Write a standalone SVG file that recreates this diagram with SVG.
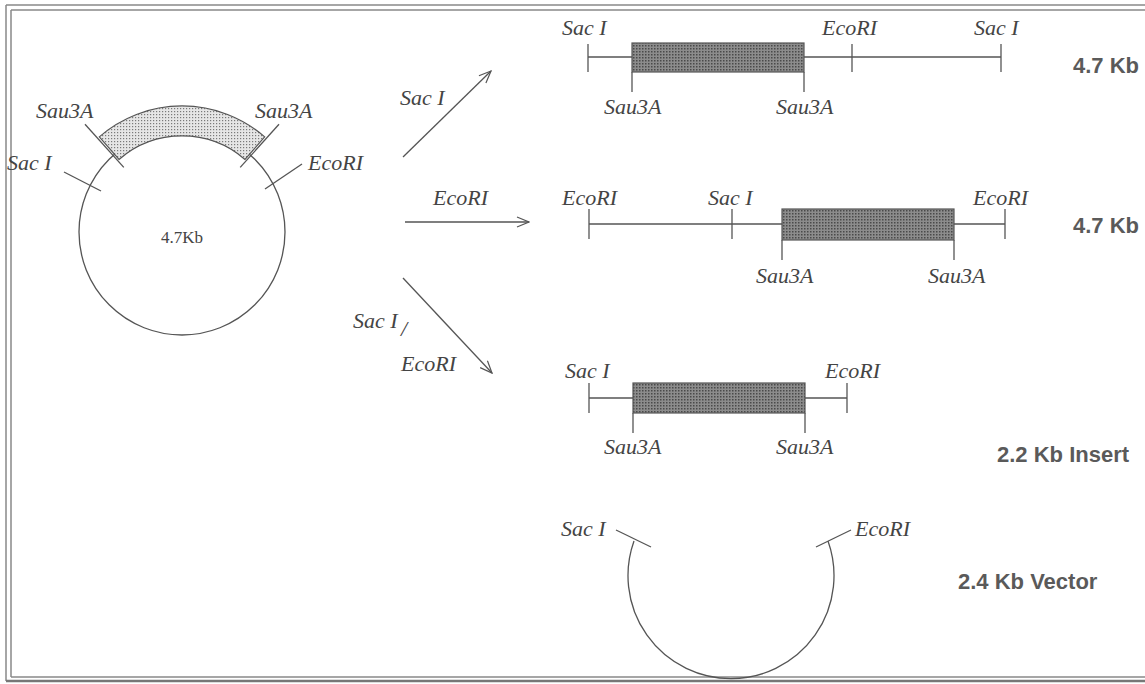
<svg xmlns="http://www.w3.org/2000/svg" width="1145" height="684" viewBox="0 0 1145 684">
<defs>
<pattern id="dk" width="3" height="3" patternUnits="userSpaceOnUse"><rect width="3" height="3" fill="#8c8c8c"/><rect width="1.5" height="1.5" fill="#4a4a4a"/></pattern>
<pattern id="lt" width="3" height="3" patternUnits="userSpaceOnUse"><rect width="3" height="3" fill="#e6e6e6"/><rect width="1.2" height="1.2" fill="#7a7a7a"/></pattern>
<marker id="ah" viewBox="0 0 14 12" refX="13" refY="6" markerWidth="14" markerHeight="12" markerUnits="userSpaceOnUse" orient="auto"><path d="M1,1 L13,6 L1,11" fill="none" stroke="#555" stroke-width="1.2"/></marker>
</defs>
<style>
.ln{stroke:#555;stroke-width:1.3;fill:none}
.bx{fill:url(#dk);stroke:#555;stroke-width:1.2}
.en{font-family:"Liberation Serif",serif;font-style:italic;font-size:22px;fill:#444}
.kb{font-family:"Liberation Sans",Arial,sans-serif;font-weight:bold;font-size:22px;fill:#5a5a5a}
.fr{stroke:#888;stroke-width:1.5;fill:none}
</style>
<rect width="1145" height="684" fill="#fff"/>
<g id="frame">
<line class="fr" x1="6" y1="5" x2="1145" y2="5"/>
<line class="fr" x1="11" y1="10" x2="1145" y2="10"/>
<line class="fr" x1="6" y1="5" x2="6" y2="681"/>
<line class="fr" x1="11" y1="10" x2="11" y2="677"/>
<line class="fr" x1="11" y1="677" x2="1145" y2="677"/>
<line x1="6" y1="681" x2="1145" y2="681" stroke="#777" stroke-width="2.5"/>
</g>
<g id="plasmid">
<circle class="ln" cx="182" cy="232" r="103"/>
<path d="M99.3,136.9 A126,126 0 0 1 264.7,136.9 L245,159.5 A96,96 0 0 0 119,159.5 Z" fill="url(#lt)" stroke="#555" stroke-width="1.2"/>
<line class="ln" x1="85" y1="124.3" x2="123.8" y2="167.4"/>
<line class="ln" x1="279" y1="124.3" x2="240.2" y2="167.4"/>
<line class="ln" x1="64" y1="172" x2="101" y2="191"/>
<line class="ln" x1="302" y1="164" x2="265" y2="189"/>
<text class="en" x="36" y="118">Sau3A</text>
<text class="en" x="255" y="118">Sau3A</text>
<text class="en" x="7" y="170">Sac I</text>
<text class="en" x="308" y="170">EcoRI</text>
<text x="182" y="243" text-anchor="middle" font-family="Liberation Serif,serif" font-size="17" fill="#444">4.7Kb</text>
</g>
<g id="connectors">
<line class="ln" x1="403" y1="157" x2="491" y2="71" marker-end="url(#ah)"/>
<line class="ln" x1="405" y1="222" x2="529" y2="222" marker-end="url(#ah)"/>
<line class="ln" x1="403" y1="278" x2="492" y2="373" marker-end="url(#ah)"/>
<text class="en" x="400" y="105">Sac I</text>
<text class="en" x="433" y="205">EcoRI</text>
<text class="en" x="353" y="328">Sac I</text>
<text class="en" x="401" y="336">/</text>
<text class="en" x="401" y="371">EcoRI</text>
</g>
<g id="row1">
<line class="ln" x1="588" y1="57" x2="1001" y2="57"/>
<line class="ln" x1="588" y1="44" x2="588" y2="72"/>
<line class="ln" x1="852" y1="44" x2="852" y2="72"/>
<line class="ln" x1="1001" y1="44" x2="1001" y2="72"/>
<rect class="bx" x="632" y="43" width="172" height="29"/>
<line class="ln" x1="632" y1="72" x2="632" y2="92"/>
<line class="ln" x1="804" y1="72" x2="804" y2="92"/>
<text class="en" x="562" y="35">Sac I</text>
<text class="en" x="822" y="35">EcoRI</text>
<text class="en" x="974" y="35">Sac I</text>
<text class="en" x="604" y="114">Sau3A</text>
<text class="en" x="776" y="114">Sau3A</text>
<text class="kb" x="1073" y="73">4.7 Kb</text>
</g>
<g id="row2">
<line class="ln" x1="589" y1="224" x2="1005" y2="224"/>
<line class="ln" x1="589" y1="209" x2="589" y2="239"/>
<line class="ln" x1="732" y1="209" x2="732" y2="239"/>
<line class="ln" x1="1005" y1="209" x2="1005" y2="239"/>
<rect class="bx" x="782" y="209" width="172" height="31"/>
<line class="ln" x1="782" y1="240" x2="782" y2="260"/>
<line class="ln" x1="954" y1="240" x2="954" y2="260"/>
<text class="en" x="562" y="205">EcoRI</text>
<text class="en" x="708" y="205">Sac I</text>
<text class="en" x="973" y="205">EcoRI</text>
<text class="en" x="756" y="283">Sau3A</text>
<text class="en" x="928" y="283">Sau3A</text>
<text class="kb" x="1073" y="233">4.7 Kb</text>
</g>
<g id="row3">
<line class="ln" x1="589" y1="398" x2="847" y2="398"/>
<line class="ln" x1="589" y1="383" x2="589" y2="413"/>
<line class="ln" x1="847" y1="383" x2="847" y2="413"/>
<rect class="bx" x="633" y="383" width="172" height="30"/>
<line class="ln" x1="633" y1="413" x2="633" y2="433"/>
<line class="ln" x1="805" y1="413" x2="805" y2="433"/>
<text class="en" x="565" y="378">Sac I</text>
<text class="en" x="825" y="378">EcoRI</text>
<text class="en" x="604" y="454">Sau3A</text>
<text class="en" x="776" y="454">Sau3A</text>
<text class="kb" x="997" y="462" font-size="22.5">2.2 Kb Insert</text>
</g>
<g id="vector">
<path class="ln" d="M634,541 A103,103 0 1 0 828,541"/>
<line class="ln" x1="616" y1="530" x2="651" y2="547"/>
<line class="ln" x1="851" y1="530" x2="816" y2="547"/>
<text class="en" x="561" y="536">Sac I</text>
<text class="en" x="855" y="536">EcoRI</text>
<text class="kb" x="958" y="589" font-size="23.5">2.4 Kb Vector</text>
</g>
</svg>
